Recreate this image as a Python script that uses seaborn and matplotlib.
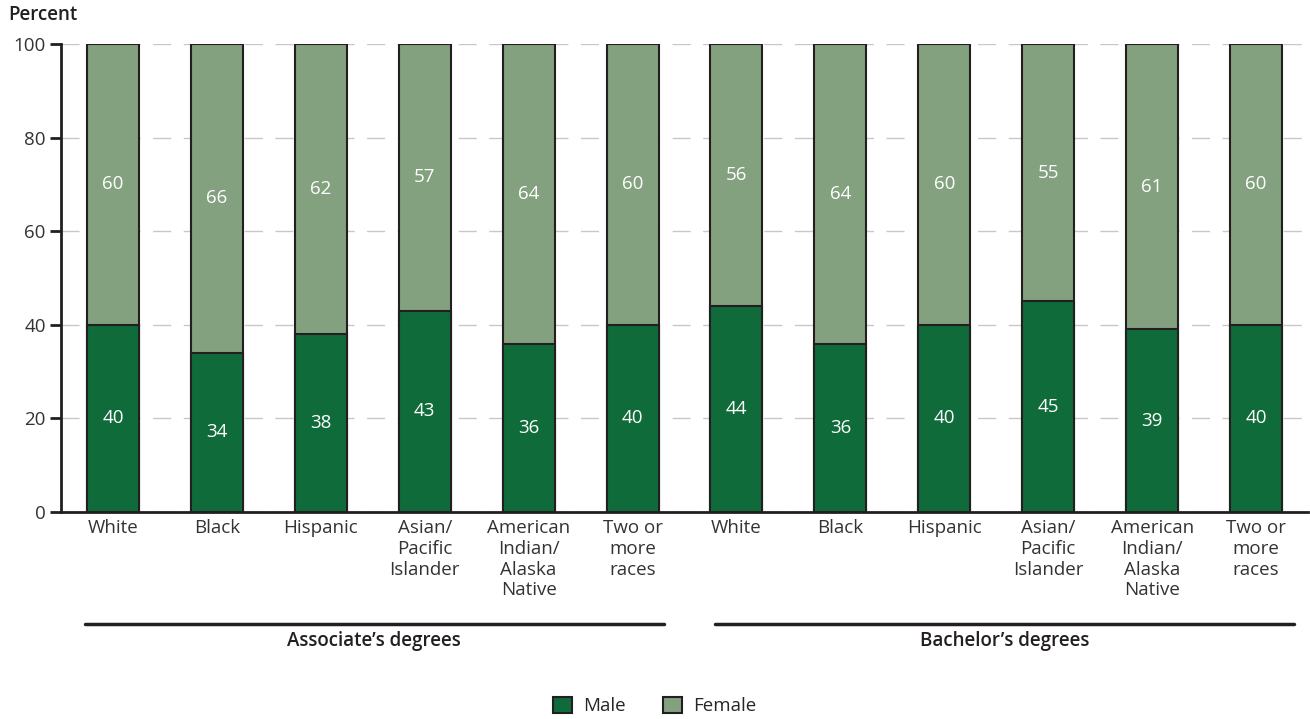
import pandas as pd
import seaborn as sns
import matplotlib.pyplot as plt
from matplotlib.patches import Patch

# data
races = ["White", "Black", "Hispanic", "Asian/\nPacific\nIslander",
         "American\nIndian/\nAlaska\nNative", "Two or\nmore\nraces"]
groups = ["Associate\u2019s degrees", "Bachelor\u2019s degrees"]
male_assoc = [40, 34, 38, 43, 36, 40]
female_assoc = [60, 66, 62, 57, 64, 60]
male_bach = [44, 36, 40, 45, 39, 40]
female_bach = [56, 64, 60, 55, 61, 60]

MALE = "#106b3a"
FEMALE = "#83a07f"
DARK = "#231f20"
TXT = "#333333"

rows = []
for g, males, females in [(groups[0], male_assoc, female_assoc),
                          (groups[1], male_bach, female_bach)]:
    for r, m, f in zip(races, males, females):
        rows.append({"key": g + "|" + r, "race": r, "group": g,
                     "male": m, "female": f, "total": m + f})
df = pd.DataFrame(rows)
order = df["key"].tolist()

sns.set_style("white")
plt.rcParams["font.family"] = ["Open Sans", "DejaVu Sans"]
FS = 13.5

fig = plt.figure(figsize=(13.1, 7.19), dpi=100)
ax = fig.add_axes([61 / 1310, 1 - 512 / 719, 1247 / 1310, 468 / 719])

sns.barplot(data=df, x="key", y="total", order=order, color=FEMALE,
            width=0.5, edgecolor=DARK, linewidth=1.5, saturation=1, ax=ax, zorder=3)
sns.barplot(data=df, x="key", y="male", order=order, color=MALE,
            width=0.5, edgecolor=DARK, linewidth=1.5, saturation=1, ax=ax, zorder=3)

for i, row in df.iterrows():
    ax.text(i, row["male"] / 2, str(row["male"]), ha="center", va="center",
            color="white", fontsize=FS, zorder=4)
    ax.text(i, row["male"] + row["female"] / 2, str(row["female"]), ha="center",
            va="center", color="white", fontsize=FS, zorder=4)

ax.set_xlim(-0.5, len(order) - 0.5)
ax.set_ylim(0, 100)
ax.set_yticks([0, 20, 40, 60, 80, 100])
ax.set_xticks(range(len(order)))
ax.set_xticklabels(df["race"], fontsize=FS, color=TXT, linespacing=1.2)
ax.tick_params(axis="y", labelsize=FS, labelcolor=TXT, length=8, width=2,
               color=DARK, direction="out", left=True, pad=3)
ax.tick_params(axis="x", length=0, pad=5)
ax.set_xlabel("")
ax.set_ylabel("")
ax.yaxis.grid(True, color="#c8c8c8", linestyle=(0, (13, 9)), linewidth=1, zorder=0)
ax.set_axisbelow(True)
for s in ["top", "right"]:
    ax.spines[s].set_visible(False)
for s in ["left", "bottom"]:
    ax.spines[s].set_color(DARK)
    ax.spines[s].set_linewidth(2)
    ax.spines[s].set_zorder(5)

# group brackets under the categories
tr = ax.get_xaxis_transform()
for x0, x1, g in [(-0.27, 5.3, groups[0]), (5.79, 11.37, groups[1])]:
    ax.plot([x0, x1], [-0.239, -0.239], color=DARK, lw=2.5, transform=tr, clip_on=False)
    ax.text((x0 + x1) / 2, -0.276, g, transform=tr, ha="center", va="center",
            fontsize=FS, fontweight="semibold", color=DARK)

fig.text(0.006, 0.979, "Percent", fontsize=FS, fontweight="semibold", color=DARK,
         ha="left", va="center")

handles = [Patch(facecolor=MALE, edgecolor=DARK, linewidth=1.5, label="Male"),
           Patch(facecolor=FEMALE, edgecolor=DARK, linewidth=1.5, label="Female")]
fig.legend(handles=handles, loc="center", bbox_to_anchor=(0.5, 1 - 706 / 719),
           ncol=2, frameon=False, fontsize=FS, handlelength=1.0, handleheight=1.0,
           columnspacing=2.0, handletextpad=0.6)

fig.savefig("out.png", dpi=100)
